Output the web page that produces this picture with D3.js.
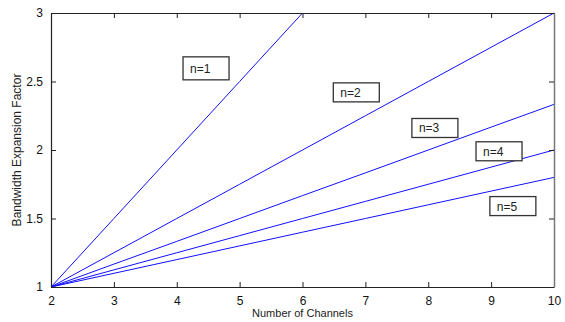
<!DOCTYPE html>
<html>
<head>
<meta charset="utf-8">
<script src="https://cdn.jsdelivr.net/npm/d3@7"></script>
<style>
  body { margin: 0; background: #fff; }
  svg { display: block; font-family: "Liberation Sans", Arial, sans-serif; }
</style>
</head>
<body>
<div class="result"></div>
<script>
// number of channels
const channels = [2, 3, 4, 5, 6, 7, 8, 9, 10];
const xTicks = [2, 3, 4, 5, 6, 7, 8, 9, 10];
const yTicks = [1, 1.5, 2, 2.5, 3];

// bandwidth expansion factor, one array per n
const n1 = [1, 1.5, 2, 2.5, 3];
const n2 = [1, 1.25, 1.5, 1.75, 2, 2.25, 2.5, 2.75, 3];
const n3 = [1, 1.167, 1.333, 1.5, 1.667, 1.833, 2, 2.167, 2.333];
const n4 = [1, 1.125, 1.25, 1.375, 1.5, 1.625, 1.75, 1.875, 2];
const n5 = [1, 1.1, 1.2, 1.3, 1.4, 1.5, 1.6, 1.7, 1.8];
const seriesNames = ['n=1', 'n=2', 'n=3', 'n=4', 'n=5'];

// text box anchors (top-left, data units)
const labelX = [4.1, 6.49, 7.74, 8.76, 8.98];
const labelY = [2.68, 2.49, 2.23, 2.06, 1.66];

const w = 565;
const h = 322;
const margin = { top: 13, right: 11, bottom: 35, left: 51 };

const x = d3.scaleLinear().domain([2, 10]).range([margin.left, w - margin.right]);
const y = d3.scaleLinear().domain([1, 3]).range([h - margin.bottom, margin.top]);

const svg = d3.select('.result')
  .append('svg')
  .attr('width', w)
  .attr('height', h);

// Lines
const series = [n1, n2, n3, n4, n5];
const line = d3.line()
  .x((d, i) => x(channels[i]))
  .y(d => y(d));

svg.selectAll('path.series')
  .data(series)
  .enter()
  .append('path')
  .attr('class', 'series')
  .attr('fill', 'none')
  .attr('stroke', '#1010ff')
  .attr('stroke-width', 1)
  .attr('d', line);

// Axes, ticks pointing inward
const axisColor = '#222';
const tickLen = 5;

const axBottom = svg.append('g')
  .attr('transform', 'translate(0,' + (h - margin.bottom) + ')')
  .call(d3.axisBottom(x).tickValues(xTicks).tickFormat(d3.format('d'))
    .tickSizeInner(-tickLen).tickSizeOuter(0).tickPadding(tickLen + 4));

const axTop = svg.append('g')
  .attr('transform', 'translate(0,' + margin.top + ')')
  .call(d3.axisTop(x).tickValues(xTicks).tickFormat('')
    .tickSizeInner(-tickLen).tickSizeOuter(0));

const axLeft = svg.append('g')
  .attr('transform', 'translate(' + margin.left + ',0)')
  .call(d3.axisLeft(y).tickValues(yTicks).tickFormat(d => d)
    .tickSizeInner(-tickLen).tickSizeOuter(0).tickPadding(tickLen + 3));

const axRight = svg.append('g')
  .attr('transform', 'translate(' + (w - margin.right) + ',0)')
  .call(d3.axisRight(y).tickValues(yTicks).tickFormat('')
    .tickSizeInner(-tickLen).tickSizeOuter(0));

[axBottom, axTop, axLeft, axRight].forEach(g => {
  g.select('.domain').attr('stroke', axisColor).attr('stroke-width', 1.2);
  g.selectAll('.tick line').attr('stroke', axisColor);
  g.selectAll('.tick text')
    .attr('fill', '#111')
    .style('font-size', '12px');
});
axRight.select('.domain').attr('stroke', '#777').attr('stroke-width', 1.5);

// Axis titles
svg.append('text')
  .attr('x', (margin.left + w - margin.right) / 2)
  .attr('y', 317)
  .attr('text-anchor', 'middle')
  .attr('fill', '#222')
  .style('font-size', '11px')
  .text('Number of Channels');

svg.append('text')
  .attr('transform', 'translate(21,' + ((margin.top + h - margin.bottom) / 2) + ') rotate(-90)')
  .attr('text-anchor', 'middle')
  .attr('fill', '#222')
  .style('font-size', '12px')
  .text('Bandwidth Expansion Factor');

// Text boxes
const boxes = svg.selectAll('g.label')
  .data(seriesNames)
  .enter()
  .append('g')
  .attr('class', 'label')
  .attr('transform', (d, i) => 'translate(' + x(labelX[i]) + ',' + y(labelY[i]) + ')');

boxes.append('rect')
  .attr('width', 46)
  .attr('height', (d, i) => i === 0 ? 23 : 19)
  .attr('fill', '#fff')
  .attr('stroke', '#333')
  .attr('stroke-width', 1.3);

boxes.append('text')
  .attr('x', 7)
  .attr('y', (d, i) => i === 0 ? 16 : 14)
  .attr('fill', '#222')
  .style('font-size', '12px')
  .text(d => d);
</script>
</body>
</html>
